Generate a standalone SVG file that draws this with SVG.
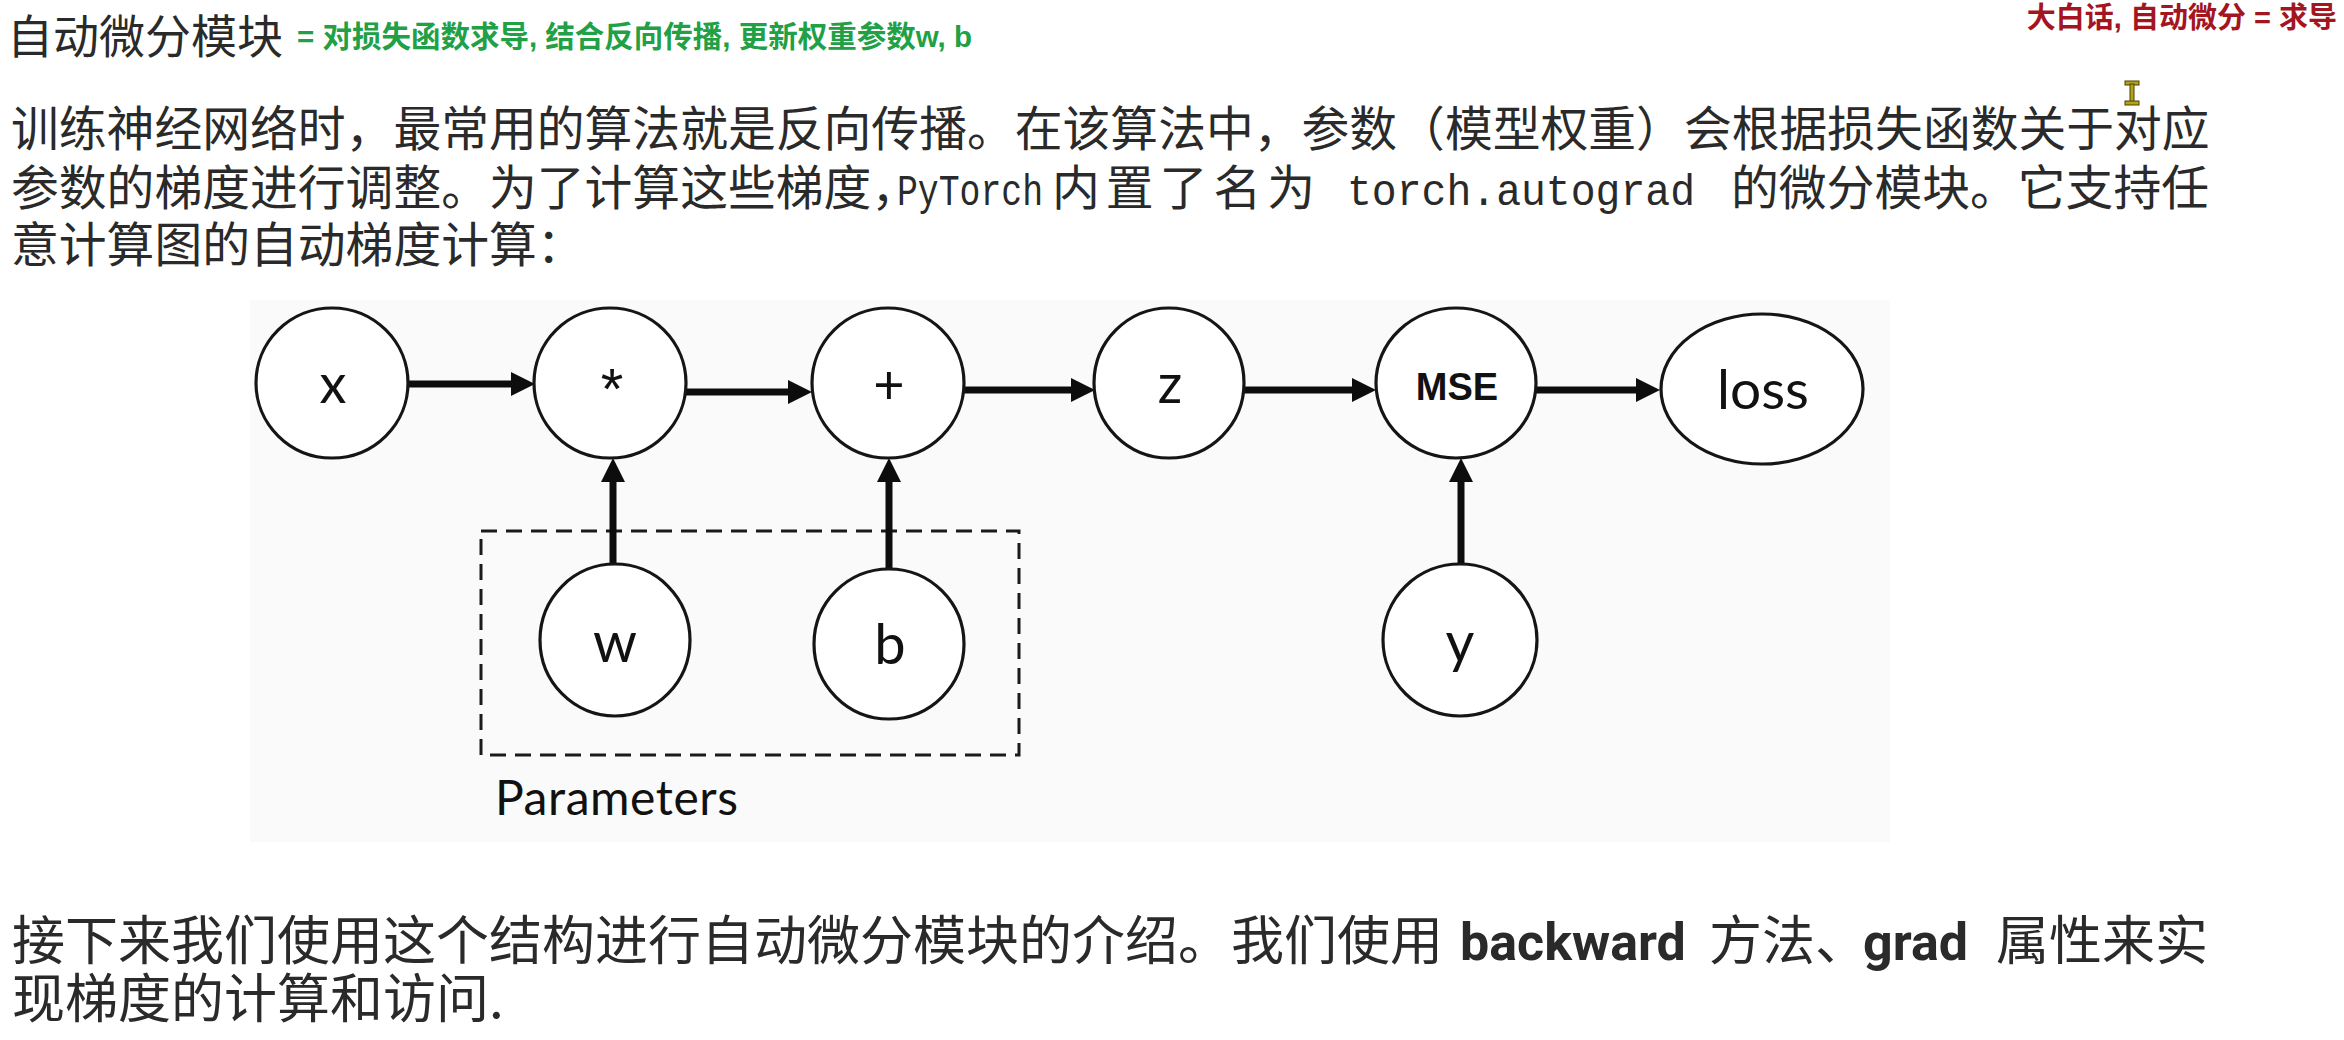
<svg xmlns="http://www.w3.org/2000/svg" width="2344" height="1040" viewBox="0 0 2344 1040">
<style>
  .cjk { font-family: "Noto Sans CJK SC", sans-serif; fill: #2a2a2a; }
  .mono { font-family: "Liberation Mono", "DejaVu Sans Mono", monospace; }
  .bold { font-family: Roboto, "Liberation Sans", sans-serif; font-weight: bold; }
  .node ellipse { fill: #ffffff; stroke: #151515; stroke-width: 3.2; }
  .lbl { font-family: Lato, "Open Sans", sans-serif; fill: #111; text-anchor: middle; }
  .edge { stroke: #0d0d0d; stroke-width: 7; fill: none; }
</style>
<defs>
  <marker id="ah" markerUnits="userSpaceOnUse" markerWidth="24" markerHeight="24" refX="4" refY="12" orient="auto">
    <path d="M0,0 L24,12 L0,24 Z" fill="#0d0d0d"/>
  </marker>
</defs>
<rect x="0" y="0" width="2344" height="1040" fill="#ffffff"/>

<!-- header -->
<text class="cjk" x="7" y="53" font-size="46" fill="#222">自动微分模块</text>
<text x="297" y="47" font-size="29.5" font-weight="bold" fill="#21a045" font-family="'Liberation Sans', 'Noto Sans CJK SC', sans-serif">= 对损失函数求导, 结合反向传播, 更新权重参数w, b</text>
<text x="2337" y="28" font-size="29" font-weight="bold" fill="#a3151f" text-anchor="end" font-family="'Liberation Sans', 'Noto Sans CJK SC', sans-serif">大白话, 自动微分 = 求导</text>

<!-- text cursor -->
<g id="cursor" fill="#b5a21a" stroke="#4a4300" stroke-width="1">
  <rect x="2125" y="81" width="14" height="4"/>
  <rect x="2130" y="84" width="4" height="18"/>
  <rect x="2125" y="101" width="14" height="4"/>
</g>

<!-- paragraph 1 -->
<text class="cjk" y="146" font-size="47.8"><tspan x="11">训练神经网络时，最常用的算法就是反向传播。在该算法中，参数（模型权重）会根据损失函数关于对应</tspan></text>
<text class="cjk" y="205" font-size="47.8"><tspan x="11">参数的梯度进行调整。为了计算这些梯度，</tspan><tspan x="897" class="mono" font-size="44" textLength="146" lengthAdjust="spacingAndGlyphs">PyTorch</tspan><tspan x="1052" letter-spacing="6">内置了名为</tspan><tspan x="1347" class="mono" font-size="44" textLength="348" lengthAdjust="spacingAndGlyphs">torch.autograd</tspan><tspan x="1731">的微分模块。它支持任</tspan></text>
<text class="cjk" y="262" font-size="47.8"><tspan x="11">意计算图的自动梯度计算：</tspan></text>

<!-- diagram background -->
<rect x="250" y="300" width="1640" height="542" fill="#fafafa"/>

<!-- parameters box -->
<g id="parameters">
  <rect x="481" y="531" width="538" height="224" fill="none" stroke="#1a1a1a" stroke-width="3" stroke-dasharray="16 9"/>
  <text class="lbl" x="495" y="815" font-size="48" style="text-anchor:start" textLength="243">Parameters</text>
</g>

<!-- connectors -->
<g id="connectors">
  <line class="edge" x1="409" y1="384" x2="515" y2="384" marker-end="url(#ah)"/>
  <line class="edge" x1="686" y1="392" x2="792" y2="392" marker-end="url(#ah)"/>
  <line class="edge" x1="964" y1="390" x2="1075" y2="390" marker-end="url(#ah)"/>
  <line class="edge" x1="1244" y1="390" x2="1356" y2="390" marker-end="url(#ah)"/>
  <line class="edge" x1="1535" y1="390" x2="1640" y2="390" marker-end="url(#ah)"/>
  <line class="edge" x1="613" y1="566" x2="613" y2="478" marker-end="url(#ah)"/>
  <line class="edge" x1="889" y1="571" x2="889" y2="478" marker-end="url(#ah)"/>
  <line class="edge" x1="1461" y1="565" x2="1461" y2="478" marker-end="url(#ah)"/>
</g>

<!-- nodes -->
<g id="node-x" class="node"><ellipse cx="332" cy="383" rx="76" ry="75"/><text class="lbl" x="333" y="403" font-size="54">x</text></g>
<g id="node-mul" class="node"><ellipse cx="610" cy="383" rx="76" ry="75"/><text class="lbl" x="612" y="409" font-size="58" style="font-family:'Liberation Sans', Arial, sans-serif">*</text></g>
<g id="node-add" class="node"><ellipse cx="888" cy="383" rx="76" ry="75"/><text class="lbl" x="889" y="404" font-size="54">+</text></g>
<g id="node-z" class="node"><ellipse cx="1169" cy="383" rx="75" ry="75"/><text class="lbl" x="1170" y="403" font-size="54">z</text></g>
<g id="node-mse" class="node"><ellipse cx="1456" cy="383" rx="80" ry="75"/><text class="lbl" x="1457" y="400" font-size="38" font-weight="bold" style="font-family:'Liberation Sans', Arial, sans-serif">MSE</text></g>
<g id="node-loss" class="node"><ellipse cx="1762" cy="389" rx="101" ry="75"/><text class="lbl" x="1763" y="409" font-size="55">loss</text></g>
<g id="node-w" class="node"><ellipse cx="615" cy="640" rx="75" ry="76"/><text class="lbl" x="615" y="662" font-size="56">w</text></g>
<g id="node-b" class="node"><ellipse cx="889" cy="644" rx="75" ry="75"/><text class="lbl" x="890" y="664" font-size="56">b</text></g>
<g id="node-y" class="node"><ellipse cx="1460" cy="640" rx="77" ry="76"/><text class="lbl" x="1460" y="662" font-size="56">y</text></g>

<!-- paragraph 2 -->
<text class="cjk" y="960" font-size="53" fill="#2e2e2e"><tspan x="12">接下来我们使用这个结构进行自动微分模块的介绍。我们使用</tspan><tspan x="1460" class="bold" font-size="52">backward</tspan><tspan x="1709">方法、</tspan><tspan x="1863" class="bold" font-size="52">grad</tspan><tspan x="1996">属性来实</tspan></text>
<text class="cjk" y="1018" font-size="53" fill="#2e2e2e"><tspan x="12">现梯度的计算和访问.</tspan></text>
</svg>
